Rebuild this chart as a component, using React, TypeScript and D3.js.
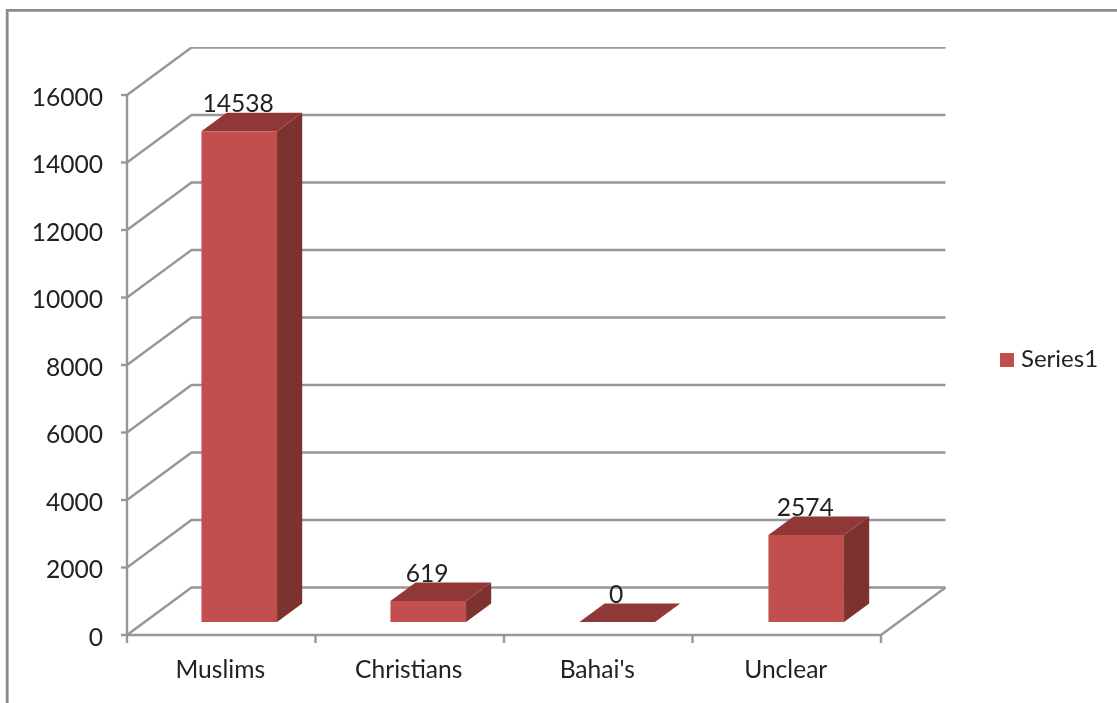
import React from "react";
import * as d3 from "d3";

const categories = ["Muslims", "Christians", "Bahai's", "Unclear"];
const seriesValues = [14538, 619, 0, 2574];
const yTicks = [0, 2000, 4000, 6000, 8000, 10000, 12000, 14000, 16000];
const seriesName = "Series1";

const W = 1117;
const H = 703;
const FONT = "Lato, 'Open Sans', sans-serif";
const GRID = "#979797";
const FS = 24.6;

const x = d3.scaleBand<string>().domain(categories).range([127, 881]);
// the 3D bars sit on a slightly wider pitch than the axis ticks
const xBar = d3.scaleBand<string>().domain(categories).range([127, 883]);
const y = d3.scaleLinear().domain([0, 16000]).range([635, 95]);
// depth: 0 = front plane of the chart, 1 = back wall
const depthX = d3.scaleLinear().domain([0, 1]).range([0, 64.5]);
const depthY = d3.scaleLinear().domain([0, 1]).range([0, -47.5]);
const BAR_FRONT = 0.275;
const BAR_BACK = 0.665;
const BAR_RATIO = 0.4;

const P = (px: number, v: number, d: number): [number, number] => [
  px + depthX(d),
  y(v) + depthY(d),
];
const poly = (pts: [number, number][]) => d3.line()(pts)! + "Z";

export default function App() {
  const [x0, x1] = x.range();
  return (
    <svg
      width={W}
      height={H}
      viewBox={`0 0 ${W} ${H}`}
      style={{ position: "absolute", left: 0, top: 0, background: "#fff" }}
      fontFamily={FONT}
    >
      <defs>
        <filter id="soft" x="0" y="0" width="100%" height="100%">
          <feGaussianBlur stdDeviation="0.45" />
        </filter>
      </defs>
      <path d={`M7.2,${H}V10.4H${W}`} fill="none" stroke="#8a8a8a" strokeWidth={2.8} />
      <g filter="url(#soft)">
        {yTicks.map((t) => (
          <g key={t}>
            <path
              d={d3.line()([P(x0, t, 0), P(x0, t, 1), P(x1, t, 1)])!}
              fill="none"
              stroke={GRID}
              strokeWidth={2.4}
            />
            <line x1={x0 - 6} x2={x0} y1={y(t)} y2={y(t)} stroke={GRID} strokeWidth={2.4} />
            <text x={103} y={y(t) + 10.5} fontSize={FS} textAnchor="end" fill="#222">
              {t}
            </text>
          </g>
        ))}

        <path
          d={d3.line()([P(x0, 16000, 0), P(x0, 0, 0), P(x1, 0, 0), P(x1, 0, 1)])!}
          fill="none"
          stroke={GRID}
          strokeWidth={2.4}
        />
        {[...categories.map((c) => x(c)!), x1].map((px) => (
          <line key={px} x1={px} x2={px} y1={y(0)} y2={y(0) + 8} stroke={GRID} strokeWidth={2.4} />
        ))}

        {categories.map((c, i) => {
          const v = seriesValues[i];
          const bw = xBar.bandwidth() * BAR_RATIO;
          const l = xBar(c)! + (xBar.bandwidth() - bw) / 2;
          const r = l + bw;
          return (
            <g key={c}>
              <path
                d={poly([P(r, 0, BAR_FRONT), P(r, 0, BAR_BACK), P(r, v, BAR_BACK), P(r, v, BAR_FRONT)])}
                fill="#7C302E"
              />
              <path
                d={poly([P(l, v, BAR_FRONT), P(r, v, BAR_FRONT), P(r, v, BAR_BACK), P(l, v, BAR_BACK)])}
                fill="#903937"
              />
              <path
                d={poly([P(l, 0, BAR_FRONT), P(r, 0, BAR_FRONT), P(r, v, BAR_FRONT), P(l, v, BAR_FRONT)])}
                fill="#C0504D"
              />
              <text
                x={P((l + r) / 2, v, BAR_FRONT)[0] - 1}
                y={P(l, v, BAR_FRONT)[1] - 19}
                fontSize={FS}
                textAnchor="middle"
                fill="#222"
              >
                {v}
              </text>
              <text x={x(c)! + x.bandwidth() / 2 - 1} y={678} fontSize={FS} textAnchor="middle" fill="#222">
                {c}
              </text>
            </g>
          );
        })}

        <rect x={1000} y={353} width={14} height={14} fill="#C0504D" />
        <text x={1021} y={367} fontSize={24} fill="#222">
          {seriesName}
        </text>
      </g>
    </svg>
  );
}
